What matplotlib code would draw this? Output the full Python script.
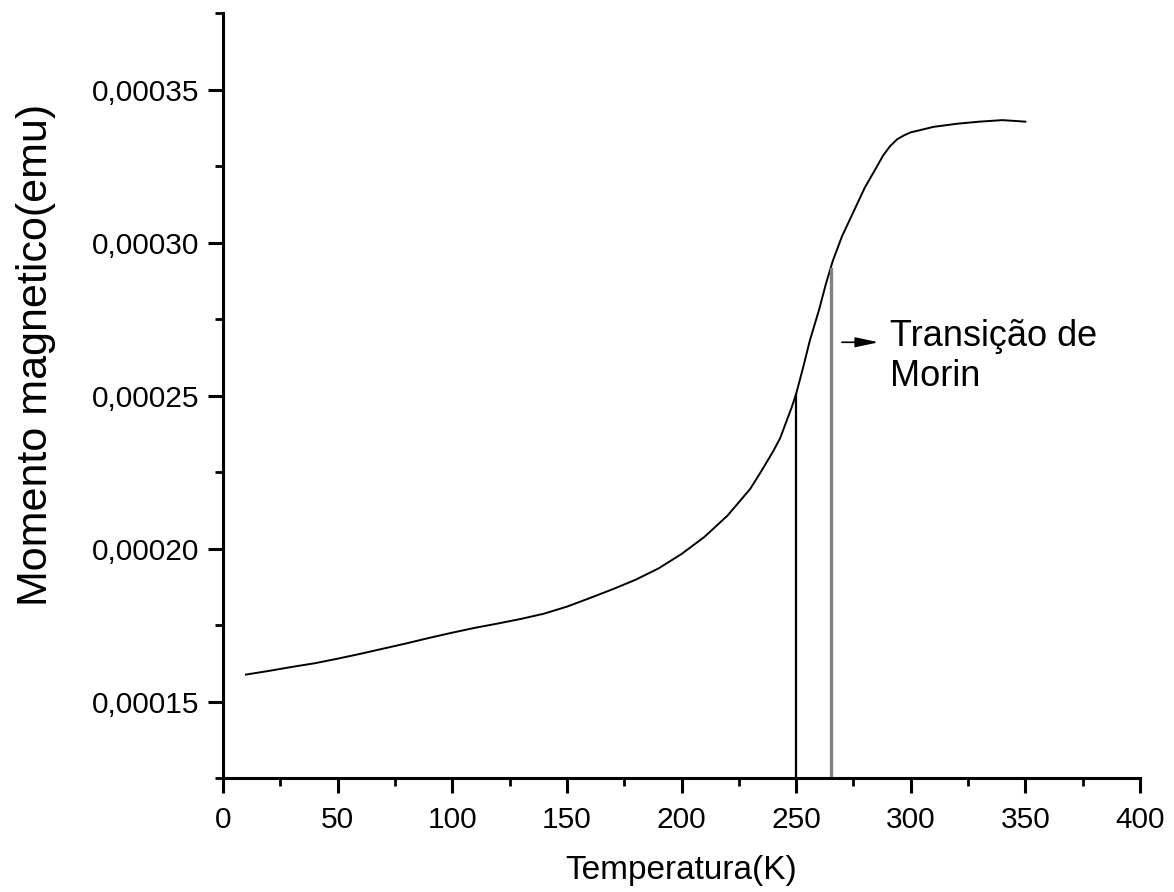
import matplotlib
matplotlib.use("Agg")
import matplotlib.pyplot as plt
from matplotlib.ticker import MultipleLocator, FuncFormatter

plt.rcParams['font.family'] = ['Liberation Sans', 'DejaVu Sans']

# temperature (K) and magnetic moment (1e-4 emu)
temperature = [10, 20, 30, 40, 50, 60, 70, 80, 90, 100, 110, 120, 130, 140,
               150, 160, 170, 180, 190, 200, 210, 220, 230, 235, 240, 243,
               246, 248, 250, 253, 256, 260, 263, 266, 270, 275, 280, 285,
               288, 291, 294, 297, 300, 310, 320, 330, 340, 350]
moment = [1.588, 1.600, 1.613, 1.625, 1.640, 1.656, 1.673, 1.690, 1.708, 1.725,
          1.741, 1.755, 1.770, 1.787, 1.810, 1.838, 1.867, 1.898, 1.935, 1.982,
          2.038, 2.107, 2.195, 2.255, 2.318, 2.360, 2.420, 2.460, 2.505, 2.590,
          2.680, 2.780, 2.865, 2.940, 3.020, 3.100, 3.180, 3.245, 3.285, 3.315,
          3.337, 3.350, 3.360, 3.378, 3.388, 3.395, 3.400, 3.395]
moment = [m * 1e-4 for m in moment]

# vertical markers: (temperature, top value, colour, width)
markers = [(250, 2.505e-4, 'black', 1.6), (265, 2.915e-4, '#808080', 2.4)]
label_text = "Transição de\nMorin"
arrow_start = (270, 2.674e-4)
arrow_end = (286, 2.674e-4)

fig = plt.figure(figsize=(11.74, 8.92), dpi=100)
ax = fig.add_axes([0.19, 0.1278, 0.781, 0.8576])

ax.plot(temperature, moment, color='black', lw=1.4)

for t, top, c, w in markers:
    ax.plot([t, t], [1.25e-4, top], color=c, lw=w)

ax.annotate("", xy=arrow_end, xytext=arrow_start,
            arrowprops=dict(arrowstyle='-|>,head_length=0.7,head_width=0.15',
                            color='black', lw=1.2, mutation_scale=20,
                            shrinkA=0, shrinkB=0))
ax.text(291, 2.627e-4, label_text, fontsize=26, va='center', ha='left',
        linespacing=1.2)

ax.set_xlim(0, 400)
ax.set_ylim(1.25e-4, 3.75e-4)
ax.xaxis.set_major_locator(MultipleLocator(50))
ax.xaxis.set_minor_locator(MultipleLocator(25))
ax.yaxis.set_major_locator(MultipleLocator(5e-5))
ax.yaxis.set_minor_locator(MultipleLocator(2.5e-5))
ax.yaxis.set_major_formatter(FuncFormatter(lambda v, p: f"{v:.5f}".replace('.', ',')))

for s in ['top', 'right']:
    ax.spines[s].set_visible(False)
for s in ['left', 'bottom']:
    ax.spines[s].set_linewidth(2.2)

ax.tick_params(which='major', direction='out', length=11, width=2.2,
               labelsize=21.5)
ax.tick_params(axis='x', which='major', pad=9)
ax.tick_params(axis='y', which='major', pad=6)
ax.tick_params(which='minor', direction='out', length=6, width=2.0)

ax.set_xlabel("Temperatura(K)", fontsize=24, labelpad=15)
ax.set_ylabel("Momento magnetico(emu)", fontsize=31, labelpad=26)
ax.yaxis.label.set_y(0.553)

fig.savefig("out.png", dpi=100)
